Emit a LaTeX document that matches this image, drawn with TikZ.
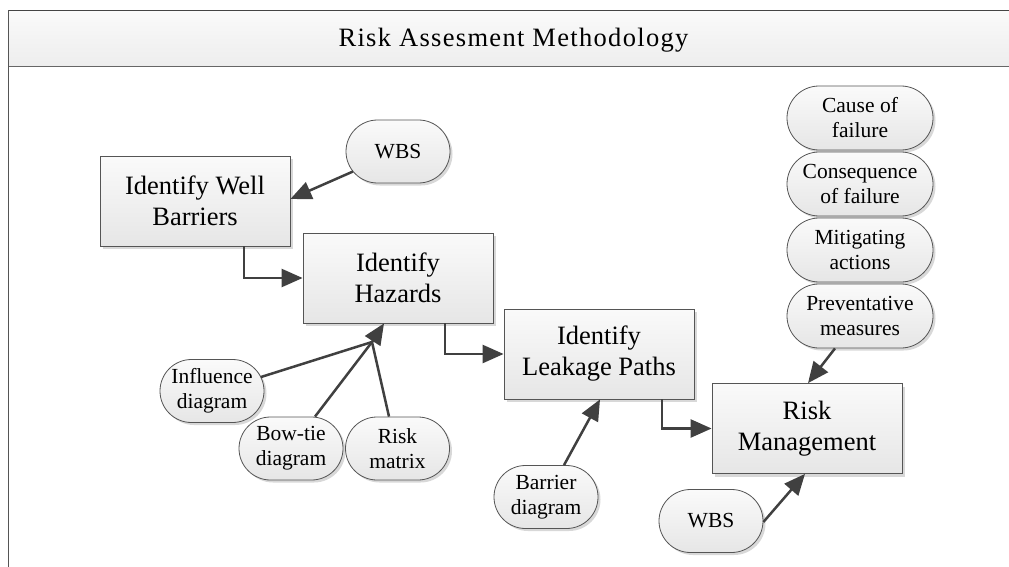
\documentclass[tikz,border=0pt]{standalone}
\usepackage{fontspec}
\setmainfont{Liberation Serif}
\usetikzlibrary{arrows.meta,shadows}

\definecolor{linkgray}{HTML}{404040}
\definecolor{edgegray}{HTML}{555555}
\definecolor{shadegray}{HTML}{D8D8D8}
\definecolor{filltop}{HTML}{FAFAFA}
\definecolor{fillbot}{HTML}{E6E6E6}

\begin{document}
\begin{tikzpicture}[x=1pt,y=-1pt,
  stepbox/.style={rectangle, draw=edgegray, line width=0.8pt,
    top color=filltop, bottom color=fillbot,
    minimum width=190pt, minimum height=90pt, inner sep=0pt,
    align=center, font=\fontsize{26.5}{31}\selectfont,
    drop shadow={shadow xshift=3pt, shadow yshift=-3pt, fill=shadegray, opacity=1}},
  pill/.style={rectangle, rounded corners=31.5pt, draw=edgegray, line width=0.8pt,
    top color=filltop, bottom color=fillbot,
    minimum width=104pt, minimum height=63pt, inner sep=0pt,
    align=center, font=\fontsize{21.5}{25}\selectfont,
    drop shadow={shadow xshift=2.5pt, shadow yshift=-2.5pt, fill=shadegray, opacity=1}},
  widepill/.style={pill, minimum width=146pt, minimum height=64pt, rounded corners=32pt},
  link/.style={draw=linkgray, line width=2.5pt},
  tip/.style={link, -{Triangle[length=21pt 0 0,width=18pt 0 0]}},
]
\useasboundingbox (0,0) rectangle (1009,567);

% title band and left frame line
\path[top color=filltop, bottom color=white!93!black] (8,10.5) rectangle (1015,66.5);
\draw[edgegray!80!black, line width=1.6pt] (8,10.5) -- (1015,10.5);
\draw[edgegray!90, line width=1.6pt] (8,66.5) -- (1015,66.5);
\draw[edgegray, line width=1pt] (8,10.5) -- (8,567);
\node (title) at (513.5,47) [anchor=base, inner sep=0pt,
  font=\fontsize{26.5}{30}\selectfont\addfontfeatures{LetterSpace=5}]
  {Risk Assesment Methodology};

% process steps
\node[stepbox] (wb) at (195,201)   {Identify Well\\Barriers};
\node[stepbox] (hz) at (398,278)   {Identify\\Hazards};
\node[stepbox] (lk) at (599,354)   {Identify\\Leakage Paths};
\node[stepbox] (rm) at (807,428.5) {Risk\\Management};

% inputs
\node[pill] (wbsA) at (398,151.5) {WBS};
\node[pill] (inf)  at (212,391)   {Influence\\diagram};
\node[pill] (bow)  at (291,448.5) {Bow-tie\\diagram};
\node[pill] (rmx)  at (397.5,448.5) {Risk\\matrix};
\node[pill] (bar)  at (546,497)   {Barrier\\diagram};
\node[pill] (wbsB) at (711,521)   {WBS};

\node[widepill] (cause) at (860,118) {Cause of\\failure};
\node[widepill] (cons)  at (860,184) {Consequence\\of failure};
\node[widepill] (mit)   at (860,250) {Mitigating\\actions};
\node[widepill] (prev)  at (860,316) {Preventative\\measures};

% flow between steps
\draw[tip] ([shift={(49,0)}]wb.south) |- (hz.west);
\draw[tip] ([shift={(47,0)}]hz.south) |- (lk.west);
\draw[tip] ([shift={(63,0)}]lk.south) |- (rm.west);

% inputs feeding the steps
\draw[tip] ([shift={(-45,20)}]wbsA.center) -- ([shift={(0,-2)}]wb.east);

\coordinate (J) at (372,342);
\draw[link] ([shift={(49,-14)}]inf.center) -- (J);
\draw[link] ([shift={(24,0)}]bow.north) -- (J);
\draw[link] ([shift={(-8.5,0)}]rmx.north) -- (J);
\draw[tip] (J) -- ([shift={(-14,0)}]hz.south);

\draw[tip] ([shift={(18,0)}]bar.north) -- ([shift={(1,0)}]lk.south);
\draw[tip] ([shift={(-25,0)}]prev.south) -- ([shift={(1,0)}]rm.north);
\draw[tip] ([shift={(0,1)}]wbsB.east) -- ([shift={(-2,0)}]rm.south);
\end{tikzpicture}
\end{document}
